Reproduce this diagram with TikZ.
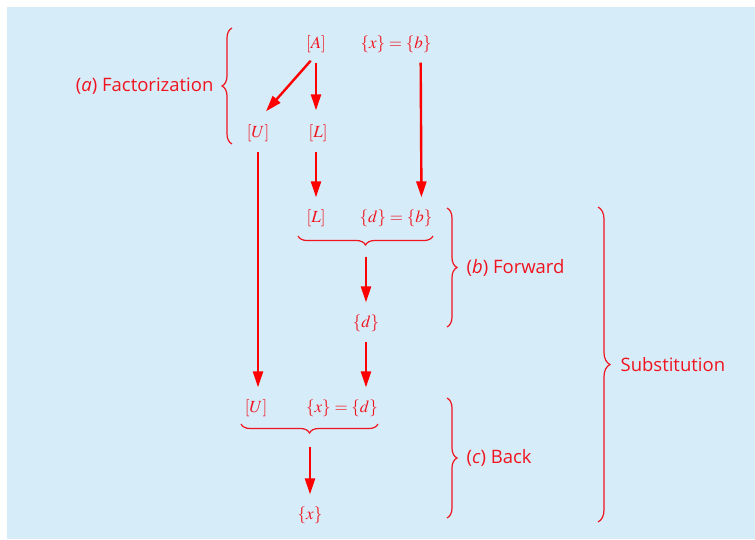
\documentclass[tikz,border=0pt]{standalone}
\usepackage{mathptmx}
\usepackage[no-math]{fontspec}
\newfontfamily\lblfont{Open Sans}
\usetikzlibrary{arrows.meta,decorations.pathreplacing}
\definecolor{bgblue}{RGB}{214,236,249}
\definecolor{lured}{RGB}{240,20,30}

\begin{document}
\begin{tikzpicture}[x=1pt,y=-1pt,>={Triangle[length=16pt,width=10pt]},
  every node/.style={text=lured,inner sep=2pt,font=\fontsize{17}{20}\selectfont},
  lbl/.style={font=\lblfont\fontsize{18.5}{22}\selectfont},
  flow/.style={->,red,line width=2.4pt},
  grp/.style={lured,line width=1.2pt,decorate,decoration={brace,amplitude=#1}},
  grp/.default=10pt]
  \fill[white] (0,0) rectangle (755,539);
  \fill[bgblue] (7,7) rectangle (755,539);
  % matrices and vectors
  \node (A)  at (316,44)  {$[A]$};
  \node (xb) at (396,44)  {$\{x\}=\{b\}$};
  \node (U1) at (258,133) {$[U]$};
  \node (L1) at (318,133) {$[L]$};
  \node (L2) at (316,218) {$[L]$};
  \node (db) at (396,218) {$\{d\}=\{b\}$};
  \node (d)  at (366,323) {$\{d\}$};
  \node (U2) at (256,408) {$[U]$};
  \node (xd) at (342,408) {$\{x\}=\{d\}$};
  \node (x)  at (310,515) {$\{x\}$};
  % arrows
  \draw[flow,shorten <=8pt] (A.south) -- ([xshift=8pt,yshift=11pt]U1.north);
  \draw[flow,shorten <=8pt,shorten >=12pt] ([xshift=-2pt]L1.north |- A.south) -- ([xshift=-2pt]L1.north);
  \draw[flow,shorten <=8pt,shorten >=10pt] ([xshift=-2pt]L1.south) -- ([xshift=-2pt]L1.south |- L2.north);
  \draw[flow,shorten <=8pt,shorten >=10pt] ([xshift=-13pt]xb.south east) -- ([xshift=-13pt]db.north east);
  \draw[flow,shorten <=8pt,shorten >=10pt] (U1.south) -- (U1.south |- U2.north);
  \draw[flow,shorten <=28pt,shorten >=10pt] (d.north |- db.south) -- (d.north);
  \draw[flow,shorten <=8pt,shorten >=10pt] (d.south) -- (d.south |- xd.north);
  \draw[flow,shorten <=28pt,shorten >=10pt] (x.north |- xd.south) -- (x.north);
  % braces
  \draw[grp=9pt,decoration={mirror}] (298,236) -- (433,236);
  \draw[grp=9pt,decoration={mirror}] (241,424) -- (378,424);
  \draw[grp] (232,144) -- node[lbl,left=16pt] (fac) {(\textit{a}) Factorization} (232,28);
  \draw[grp] (447,208) -- node[lbl,right=17pt] (fwd) {(\textit{b}) Forward} (447,327);
  \draw[grp] (447,398) -- node[lbl,right=17pt] (bck) {(\textit{c}) Back} (447,518);
  \draw[grp=12pt] (598,207) -- node[lbl,right=20pt] (sub) {Substitution} (598,522);
\end{tikzpicture}
\end{document}
